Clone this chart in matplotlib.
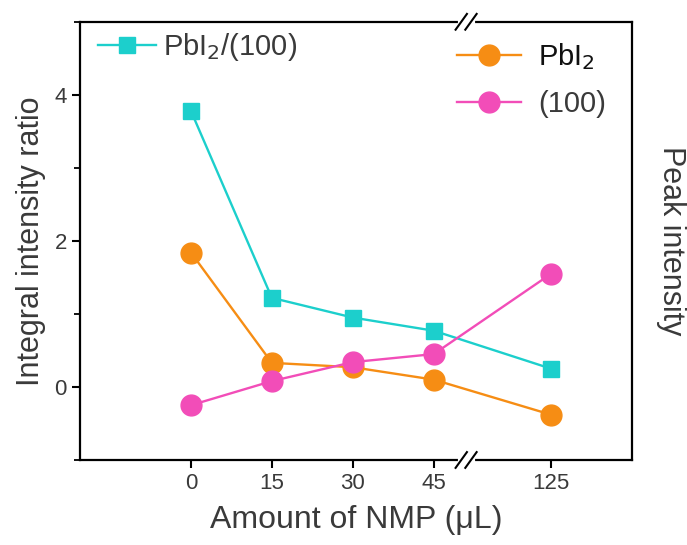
import numpy as np
import matplotlib
matplotlib.use('Agg')
import matplotlib.pyplot as plt
import matplotlib.transforms as mtransforms
from matplotlib.ticker import MultipleLocator

plt.rcParams['font.family'] = ['Liberation Sans', 'DejaVu Sans']

# data
nmp_labels = ['0', '15', '30', '45', '125']
x_pos = [0, 1, 2, 3, 4.45]          # broken axis: 125 sits after the break
x_break = 3.4
ratio = [3.78, 1.22, 0.95, 0.77, 0.25]      # PbI2/(100)
pbi2 = [1.84, 0.33, 0.27, 0.10, -0.38]      # PbI2
p100 = [-0.25, 0.08, 0.34, 0.45, 1.55]      # (100)

cyan = '#1ccfcc'
orange = '#f68d14'
pink = '#f24db8'
txt = '#3a3a3a'

fig = plt.figure(figsize=(6.87, 5.45), dpi=100)
ax = fig.add_axes([0.1165, 0.156, 0.8035, 0.804])

l1, = ax.plot(x_pos, ratio, '-s', color=cyan, lw=1.7, ms=12, label='PbI$_2$/(100)')
l2, = ax.plot(x_pos, pbi2, '-o', color=orange, lw=1.7, ms=15, label='PbI$_2$')
l3, = ax.plot(x_pos, p100, '-o', color=pink, lw=1.7, ms=15, label='(100)')

ax.set_xlim(-1.37, 5.45)
ax.set_ylim(-1, 5)
ax.set_xticks(x_pos)
ax.set_xticklabels(nmp_labels)
ax.yaxis.set_major_locator(MultipleLocator(2))
ax.yaxis.set_minor_locator(MultipleLocator(1))
ax.tick_params(axis='both', which='major', direction='out', length=6, width=1.5,
               labelsize=16, labelcolor=txt)
ax.tick_params(axis='y', which='minor', direction='out', length=4, width=1.3)
for s in ax.spines.values():
    s.set_linewidth(1.6)

ax.set_xlabel('Amount of NMP (\u03bcL)', fontsize=23, color=txt, labelpad=8)
ax.set_ylabel('Integral intensity ratio', fontsize=22, color=txt, labelpad=6)
ax.text(1.07, 0.5, 'Peak intensity', transform=ax.transAxes, rotation=-90,
        fontsize=22, color=txt, ha='center', va='center')

# axis break marks on top and bottom spines
trans = mtransforms.blended_transform_factory(ax.transData, ax.transAxes)
for yb in (0, 1):
    ax.plot([x_break - 0.08, x_break + 0.08], [yb, yb], color='white', lw=3,
            transform=trans, clip_on=False, zorder=5)
    for dx in (-0.06, 0.06):
        ax.plot([x_break + dx - 0.07, x_break + dx + 0.07], [yb - 0.018, yb + 0.018],
                color='black', lw=1.5, transform=trans, clip_on=False, zorder=6)

leg1 = ax.legend(handles=[l1], loc='upper left', bbox_to_anchor=(-0.005, 1.025),
                 frameon=False, fontsize=21, handlelength=2.0, handletextpad=0.25,
                 borderaxespad=0.3, labelcolor=txt)
ax.add_artist(leg1)
leg2 = ax.legend(handles=[l2, l3], loc='upper left', bbox_to_anchor=(0.635, 1.015),
                 frameon=False, fontsize=21, handlelength=2.2, handletextpad=0.6,
                 labelspacing=0.6, labelcolor=txt)
leg2.get_texts()[0].set_color('#111111')

fig.savefig('out.png', dpi=100)
